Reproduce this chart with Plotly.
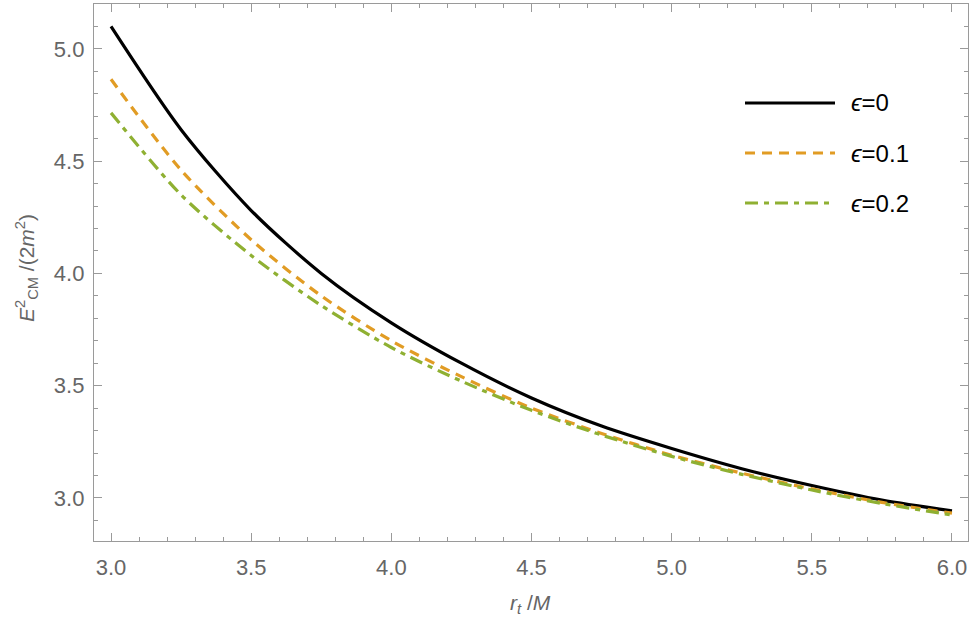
import plotly.graph_objects as go

# data
r_t = [3.0, 3.25, 3.5, 3.75, 4.0, 4.25, 4.5, 4.75, 5.0, 5.25, 5.5, 5.75, 6.0]
e_0 = [5.10, 4.64, 4.28, 4.00, 3.78, 3.60, 3.445, 3.32, 3.22, 3.13, 3.055, 2.99, 2.942]
e_01 = [4.865, 4.46, 4.15, 3.90, 3.70, 3.54, 3.40, 3.287, 3.19, 3.11, 3.04, 2.98, 2.932]
e_02 = [4.715, 4.35, 4.08, 3.857, 3.67, 3.52, 3.39, 3.28, 3.185, 3.105, 3.035, 2.975, 2.924]
labels = ["<i>ϵ</i>=0", "<i>ϵ</i>=0.1", "<i>ϵ</i>=0.2"]
colors = ["#000000", "#E19C24", "#8FB032"]
dashes = ["solid", "10px,7px", "13px,6px,5px,6px"]
series = [e_0, e_01, e_02]

FONT = "Liberation Sans, Arial, sans-serif"
GRAY = "#666666"
AX = "#9a9a9a"

fig = go.Figure()
for ys, name, c, d in zip(series, labels, colors, dashes):
    fig.add_trace(go.Scatter(x=r_t, y=ys, mode="lines", name=name,
                             line=dict(color=c, width=3.2, dash=d, shape="spline", smoothing=0.8),
                             showlegend=False))

W, H = 973, 621
L, R, T, B = 94, 5, 4, 80
pw, ph = W - L - R, H - T - B

def px(xp):
    return (xp - L) / pw

def py(yp):
    return (H - B - yp) / ph

# manual legend (long line samples as in the reference)
leg_y = [103, 153, 203]
for name, c, d, yy in zip(labels, colors, dashes, leg_y):
    fig.add_shape(type="line", xref="paper", yref="paper",
                  x0=px(745), x1=px(835), y0=py(yy), y1=py(yy),
                  line=dict(color=c, width=3.2, dash=d))
    fig.add_annotation(xref="paper", yref="paper", x=px(849), y=py(yy),
                       xanchor="left", yanchor="middle", showarrow=False,
                       text=name, font=dict(family=FONT, size=24, color="#000000"))

# axis titles
fig.add_annotation(xref="paper", yref="paper", x=px(530), y=py(604),
                   xanchor="center", yanchor="middle", showarrow=False,
                   text="<i>r</i><sub><i>t</i></sub> /<i>M</i>",
                   font=dict(family=FONT, size=21, color=GRAY))
fig.add_annotation(xref="paper", yref="paper", x=px(26), y=py(268),
                   xanchor="center", yanchor="middle", showarrow=False, textangle=-90,
                   text="<i>E</i><sup>2</sup><sub>CM</sub> /(2<i>m</i><sup>2</sup>)",
                   font=dict(family=FONT, size=21, color=GRAY))

axis_common = dict(showgrid=False, zeroline=False, showline=True, linecolor=AX, linewidth=1.3,
                   mirror="ticks", ticks="inside", ticklen=8, tickwidth=1, tickcolor=AX,
                   tickformat=".1f", tickfont=dict(family=FONT, size=22, color=GRAY),
                   minor=dict(ticks="inside", ticklen=4, tickwidth=1, tickcolor=AX, dtick=0.1, showgrid=False))

fig.update_xaxes(range=[2.9393, 6.0571], tick0=3.0, dtick=0.5, ticklabelstandoff=6, **axis_common)
fig.update_yaxes(range=[2.808, 5.2], tick0=3.0, dtick=0.5, ticklabelstandoff=4, **axis_common)

fig.update_layout(width=W, height=H, margin=dict(l=L, r=R, t=T, b=B, autoexpand=False),
                  plot_bgcolor="white", paper_bgcolor="white",
                  font=dict(family=FONT, color=GRAY))

fig.write_html("out.html")
